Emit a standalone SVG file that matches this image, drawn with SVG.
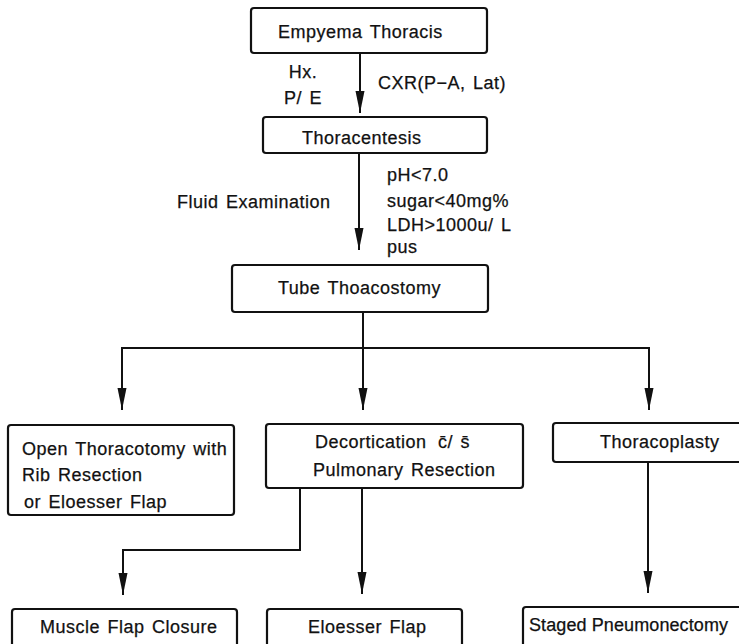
<svg xmlns="http://www.w3.org/2000/svg" width="739" height="644" viewBox="0 0 739 644">
<style>
.box{fill:#fff;stroke:#111;stroke-width:2.2}
.t{font-family:"Liberation Sans",Arial,sans-serif;font-size:18px;letter-spacing:0.5px;word-spacing:2px;fill:#111;stroke:#111;stroke-width:0.25}
.c{stroke:#111;stroke-width:2;fill:none}
</style>
<defs>
<marker id="ah" viewBox="0 0 22 10" refX="22" refY="5" markerWidth="22" markerHeight="10" markerUnits="userSpaceOnUse" orient="auto">
<path d="M0,0.5 L22,5 L0,9.5 z" fill="#111"/>
</marker>
</defs>
<rect width="739" height="644" fill="#fff"/>
<g id="connectors">
<path class="c" d="M360,53 V113" marker-end="url(#ah)"/>
<path class="c" d="M359,153 V250" marker-end="url(#ah)"/>
<path class="c" d="M363,312 V348 H122 V410" marker-end="url(#ah)"/>
<path class="c" d="M363,348 V410" marker-end="url(#ah)"/>
<path class="c" d="M363,348 H649 V410" marker-end="url(#ah)"/>
<path class="c" d="M300,488 V550 H123 V595" marker-end="url(#ah)"/>
<path class="c" d="M362,488 V594" marker-end="url(#ah)"/>
<path class="c" d="M648,462 V593" marker-end="url(#ah)"/>
</g>
<g id="labels">
<text class="t" x="303" y="78" text-anchor="middle">Hx.</text>
<text class="t" x="303" y="104" text-anchor="middle">P/ E</text>
<text class="t" x="378" y="89">CXR(P−A, Lat)</text>
<text class="t" x="177" y="208">Fluid Examination</text>
<text class="t" x="387" y="181">pH&lt;7.0</text>
<text class="t" x="387" y="207">sugar&lt;40mg%</text>
<text class="t" x="387" y="231">LDH&gt;1000u/ L</text>
<text class="t" x="387" y="253">pus</text>
</g>
<g id="n-empyema">
<rect class="box" x="251" y="8" width="236" height="45" rx="3"/>
<text class="t" x="278" y="38">Empyema Thoracis</text>
</g>
<g id="n-thoracentesis">
<rect class="box" x="263" y="117" width="224" height="36" rx="3"/>
<text class="t" x="302" y="144">Thoracentesis</text>
</g>
<g id="n-tube">
<rect class="box" x="232" y="265" width="256" height="47" rx="3"/>
<text class="t" x="278" y="294">Tube Thoacostomy</text>
</g>
<g id="n-open">
<rect class="box" x="8" y="425" width="226" height="90" rx="3"/>
<text class="t" x="22" y="455">Open Thoracotomy with</text>
<text class="t" x="22" y="481">Rib Resection</text>
<text class="t" x="24" y="508">or Eloesser Flap</text>
</g>
<g id="n-decort">
<rect class="box" x="266" y="424" width="257" height="64" rx="3"/>
<text class="t" x="315" y="448">Decortication<tspan x="438">c̄/ s̄</tspan></text>
<text class="t" x="313" y="476">Pulmonary Resection</text>
</g>
<g id="n-thoracoplasty">
<rect class="box" x="553" y="423" width="200" height="39" rx="3"/>
<text class="t" x="600" y="448">Thoracoplasty</text>
</g>
<g id="n-muscle">
<rect class="box" x="12" y="609" width="225" height="60" rx="3"/>
<text class="t" x="40" y="633">Muscle Flap Closure</text>
</g>
<g id="n-eloesser">
<rect class="box" x="267" y="609" width="195" height="60" rx="3"/>
<text class="t" x="308" y="633">Eloesser Flap</text>
</g>
<g id="n-staged">
<rect class="box" x="523" y="607" width="230" height="60" rx="3"/>
<text class="t" x="529" y="631" style="letter-spacing:0.1px;word-spacing:0">Staged Pneumonectomy</text>
</g>
</svg>
